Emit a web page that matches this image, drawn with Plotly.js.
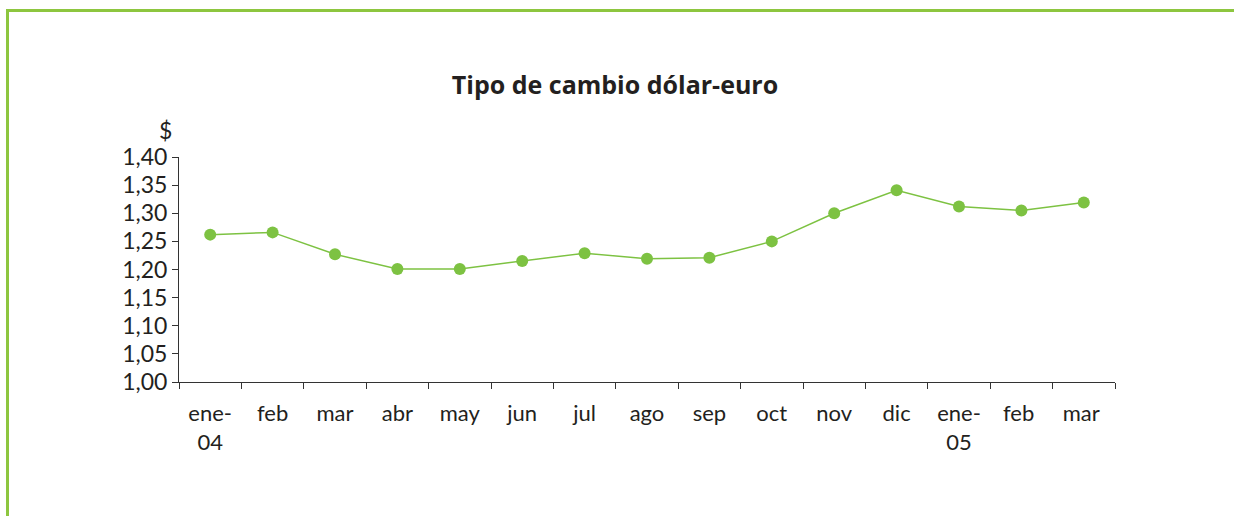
<!DOCTYPE html>
<html><head><meta charset="utf-8">
<script src="https://cdn.plot.ly/plotly-3.0.1.min.js"></script>
<style>
html,body{margin:0;padding:0;background:#fff;}
#wrap{position:relative;width:1234px;height:516px;overflow:hidden;}
#frame{position:absolute;left:6px;top:9px;width:1240px;height:520px;border-left:3px solid #8dc63f;border-top:3px solid #8dc63f;box-sizing:border-box;pointer-events:none;}
#chart{position:absolute;left:0;top:0;width:1234px;height:516px;}
</style></head>
<body><div id="wrap"><div id="chart"></div><div id="frame"></div></div>
<script>
const months = ["ene-<br>04","feb","mar","abr","may","jun","jul","ago","sep","oct","nov","dic","ene-<br>05","feb ","mar "];
const rate = [1.262, 1.266, 1.227, 1.201, 1.201, 1.215, 1.229, 1.219, 1.221, 1.250, 1.300, 1.341, 1.312, 1.305, 1.319];
const yTicks = [1.00,1.05,1.10,1.15,1.20,1.25,1.30,1.35,1.40];
const yTickText = ["1,00","1,05","1,10","1,15","1,20","1,25","1,30","1,35","1,40"];

const FONT = "Lato, 'Open Sans', sans-serif";
const TFONT = "'Open Sans', Lato, sans-serif";
const txt = "#231f20";
const green = "#7dc242";

Plotly.newPlot("chart", [{
  x: months, y: rate, type: "scatter", mode: "lines+markers",
  line: {color: green, width: 1.5},
  marker: {color: green, size: 12},
  hoverinfo: "skip"
}], {
  width: 1234, height: 516,
  margin: {l: 179, r: 119, t: 157, b: 134, pad: 0},
  paper_bgcolor: "#fff", plot_bgcolor: "#fff",
  showlegend: false,
  font: {family: FONT, color: txt, size: 22},
  title: {text: "<b>Tipo de cambio dólar-euro</b>", font: {family: TFONT, size: 25, color: txt},
          x: 615/1234, xanchor: "center", xref: "container", y: 1 - 85/516, yanchor: "middle", yref: "container"},
  xaxis: {type: "category", tickson: "boundaries", ticks: "outside", ticklen: 6, tickcolor: "#333",
          ticklabelstandoff: 12,
          showline: true, linecolor: "#333", linewidth: 1, showgrid: false, zeroline: false,
          tickfont: {family: FONT, size: 22, color: txt}, range: [-0.5, 14.5], fixedrange: true},
  yaxis: {range: [1.0, 1.40], tickvals: yTicks, ticktext: yTickText, ticks: "outside", ticklen: 6,
          tickcolor: "#333", showline: true, linecolor: "#333", linewidth: 1, showgrid: false, zeroline: false,
          tickfont: {family: FONT, size: 23, color: txt}, fixedrange: true},
  annotations: [{text: "$", xref: "paper", yref: "paper", x: -0.014, y: 1 + 27/225, xanchor: "center", yanchor: "middle",
                 showarrow: false, font: {family: FONT, size: 23, color: txt}}]
}, {displayModeBar: false, staticPlot: true});
</script></body></html>
